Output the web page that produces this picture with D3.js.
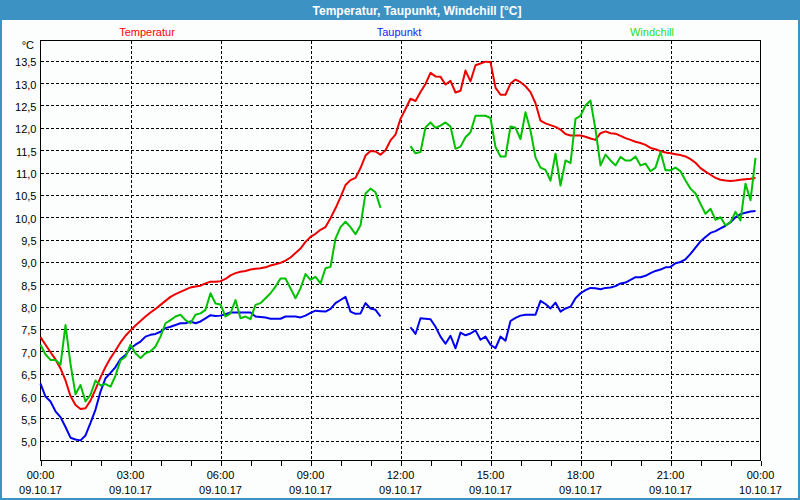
<!DOCTYPE html>
<html>
<head>
<meta charset="utf-8">
<script src="https://cdn.jsdelivr.net/npm/d3@7"></script>
<style>
  body { margin: 0; background: #fff; }
  svg { display: block; font-family: "Liberation Sans", Arial, sans-serif; }
</style>
</head>
<body>
<script>
// 10-minute readings, 00:00 .. 23:50, one row per hour (null = no data)
var temperatur = [
  7.32, 7.15, 6.98, 6.82, 6.62, 6.35,
  6.00, 5.80, 5.71, 5.73, 5.90, 6.15,
  6.42, 6.65, 6.85, 7.02, 7.20, 7.35,
  7.47, 7.58, 7.68, 7.78, 7.87, 7.95,
  8.04, 8.13, 8.22, 8.28, 8.33, 8.38,
  8.43, 8.45, 8.47, 8.52, 8.56, 8.56,
  8.57, 8.62, 8.70, 8.75, 8.78, 8.80,
  8.83, 8.85, 8.86, 8.88, 8.92, 8.95,
  8.98, 9.03, 9.10, 9.20, 9.30, 9.45,
  9.56, 9.63, 9.72, 9.78, 9.98, 10.20,
  10.45, 10.72, 10.83, 10.88, 11.10, 11.38,
  11.48, 11.47, 11.40, 11.50, 11.72, 11.85,
  12.20, 12.42, 12.65, 12.60, 12.80, 12.98,
  13.23, 13.15, 13.14, 12.97, 13.05, 12.79,
  12.83, 13.28, 13.04, 13.40, 13.44, 13.48,
  13.47, 12.90, 12.74, 12.74, 12.99, 13.08,
  13.02, 12.93, 12.80, 12.55, 12.16, 12.10,
  12.06, 12.02, 11.96, 11.86, 11.83, 11.83,
  11.83, 11.80, 11.76, 11.73, 11.88, 11.92,
  11.88, 11.87, 11.82, 11.77, 11.73, 11.69,
  11.66, 11.62, 11.55, 11.52, 11.48, 11.45,
  11.43, 11.41, 11.39, 11.36, 11.30, 11.22,
  11.10, 11.02, 10.95, 10.88, 10.84, 10.82,
  10.81, 10.82, 10.84, 10.85, 10.86, 10.88
];

var taupunkt = [
  6.28, 5.99, 5.88, 5.66, 5.53, 5.31,
  5.07, 5.03, 5.01, 5.12, 5.40, 5.70,
  6.10, 6.40, 6.52, 6.65, 6.83, 6.92,
  7.07, 7.15, 7.22, 7.33, 7.37, 7.39,
  7.44, 7.52, 7.55, 7.59, 7.63, 7.63,
  7.67, 7.63, 7.67, 7.74, 7.81, 7.79,
  7.80, 7.83, 7.87, 7.87, 7.87, 7.87,
  7.87, 7.78, 7.77, 7.76, 7.73, 7.73,
  7.73, 7.78, 7.78, 7.78, 7.76, 7.80,
  7.86, 7.91, 7.90, 7.89, 7.95, 8.08,
  8.15, 8.22, 7.89, 7.84, 7.85, 8.08,
  7.96, 7.93, 7.78, null, null, null,
  null, null, 7.54, 7.39, 7.74, 7.73,
  7.72, 7.55, 7.33, 7.17, 7.35, 7.07,
  7.42, 7.36, 7.40, 7.47, 7.26, 7.33,
  7.15, 7.07, 7.33, 7.24, 7.68, 7.75,
  7.80, 7.82, 7.82, 7.82, 8.13, 8.06,
  7.96, 8.09, 7.89, 7.96, 8.00, 8.19,
  8.30, 8.37, 8.42, 8.41, 8.39, 8.42,
  8.43, 8.46, 8.52, 8.54, 8.60, 8.66,
  8.66, 8.69, 8.75, 8.80, 8.83, 8.88,
  8.89, 8.97, 9.00, 9.06, 9.18, 9.32,
  9.46, 9.56, 9.65, 9.69, 9.75, 9.81,
  9.89, 10.00, 10.07, 10.10, 10.13, 10.14
];

var windchill = [
  7.15, 6.93, 6.81, 6.81, 6.70, 7.59,
  6.72, 6.04, 6.25, 5.88, 6.03, 6.35,
  6.24, 6.27, 6.21, 6.46, 6.80, 6.88,
  7.15, 6.96, 6.85, 6.96, 7.00, 7.11,
  7.33, 7.63, 7.70, 7.78, 7.82, 7.70,
  7.63, 7.82, 7.85, 7.93, 8.30, 8.07,
  8.05, 7.78, 7.85, 8.15, 7.74, 7.78,
  7.72, 8.04, 8.08, 8.19, 8.30, 8.45,
  8.63, 8.63, 8.41, 8.19, 8.41, 8.73,
  8.60, 8.67, 8.52, 8.86, 8.89, 9.52,
  9.78, 9.90, 9.78, 9.62, 9.82, 10.53,
  10.64, 10.56, 10.21, null, null, null,
  null, null, 11.59, 11.43, 11.46, 12.01,
  12.12, 12.00, 12.05, 12.12, 12.03, 11.53,
  11.58, 11.79, 11.90, 12.27, 12.27, 12.27,
  12.22, 11.57, 11.36, 11.36, 12.03, 12.00,
  11.75, 12.35, 11.94, 11.34, 11.11, 11.06,
  10.82, 11.42, 10.71, 11.27, 11.21, 12.20,
  12.27, 12.50, 12.61, 11.96, 11.16, 11.40,
  11.27, 11.16, 11.35, 11.27, 11.27, 11.36,
  11.16, 11.20, 11.03, 11.11, 11.46, 11.05,
  11.05, 11.11, 11.03, 10.82, 10.64, 10.53,
  10.30, 10.08, 10.19, 9.94, 10.00, 9.82,
  9.89, 10.12, 9.93, 10.75, 10.38, 11.33
];

var yTicks = [5.0, 5.5, 6.0, 6.5, 7.0, 7.5, 8.0, 8.5, 9.0, 9.5, 10.0, 10.5, 11.0, 11.5, 12.0, 12.5, 13.0, 13.5];
var xMajor = [0, 3, 6, 9, 12, 15, 18, 21, 24];
var timeLabels = ["00:00", "03:00", "06:00", "09:00", "12:00", "15:00", "18:00", "21:00", "00:00"];
var dateLabels = ["09.10.17", "09.10.17", "09.10.17", "09.10.17", "09.10.17", "09.10.17", "09.10.17", "09.10.17", "10.10.17"];
var seriesNames = ["Temperatur", "Taupunkt", "Windchill"];

var W = 800, H = 500;
var plot = {left: 40.5, right: 760.5, top: 40.5, bottom: 460.5};
var frameBlue = "#3d92c4";

var x = d3.scaleLinear().domain([0, 24]).range([plot.left, plot.right]);
var y = d3.scaleLinear().domain([4.56, 13.953]).range([plot.bottom, plot.top]);

var svg = d3.select("body").append("svg")
    .attr("width", W)
    .attr("height", H);

// background + frame
svg.append("rect")
    .attr("x", 1).attr("y", 1)
    .attr("width", W - 2).attr("height", H - 2)
    .attr("fill", "#fbfefd")
    .attr("stroke", frameBlue)
    .attr("stroke-width", 2);

svg.append("rect")
    .attr("x", 0).attr("y", 0)
    .attr("width", W).attr("height", 20)
    .attr("fill", frameBlue);

svg.append("text")
    .attr("x", 417).attr("y", 15)
    .attr("text-anchor", "middle")
    .attr("fill", "#fff")
    .style("font-size", "12px")
    .style("font-weight", "bold")
    .text("Temperatur, Taupunkt, Windchill [°C]");

// legend
var legendColors = ["#ff0000", "#1a1aff", "#22dd22"];
var legendX = [147, 399, 652];
svg.selectAll(".legend")
    .data(seriesNames)
  .enter().append("text")
    .attr("class", "legend")
    .attr("x", function(d, i) { return legendX[i]; })
    .attr("y", 36)
    .attr("text-anchor", "middle")
    .attr("fill", function(d, i) { return legendColors[i]; })
    .style("font-size", "11px")
    .text(function(d) { return d; });

// grid
var grid = svg.append("g").attr("class", "grid")
    .attr("stroke", "#000")
    .attr("stroke-width", 1)
    .attr("stroke-dasharray", "3,2")
    .attr("shape-rendering", "crispEdges");

grid.selectAll(".hgrid")
    .data(yTicks)
  .enter().append("line")
    .attr("x1", plot.left).attr("x2", plot.right)
    .attr("y1", function(d) { return Math.round(y(d)) + 0.5; })
    .attr("y2", function(d) { return Math.round(y(d)) + 0.5; });

grid.selectAll(".vgrid")
    .data(xMajor.slice(1, -1))
  .enter().append("line")
    .attr("y1", plot.top).attr("y2", plot.bottom)
    .attr("x1", function(d) { return Math.round(x(d)) + 0.5; })
    .attr("x2", function(d) { return Math.round(x(d)) + 0.5; });

// y axis labels
var yAxis = d3.axisLeft(y)
    .tickValues(yTicks)
    .tickSize(0)
    .tickPadding(4)
    .tickFormat(function(d) { return d.toFixed(1).replace(".", ","); });

var gy = svg.append("g")
    .attr("transform", "translate(" + plot.left + ",0)")
    .call(yAxis);
gy.select(".domain").remove();
gy.selectAll("text")
    .attr("fill", "#000")
    .attr("dy", "0.45em")
    .style("font-size", "11px")
    .style("font-family", "Liberation Sans, Arial, sans-serif");

svg.append("text")
    .attr("x", 34).attr("y", 49)
    .attr("text-anchor", "end")
    .style("font-size", "11px")
    .text("°C");

// x axis: hourly ticks, labels every 3 h
var xAxis = d3.axisBottom(x)
    .tickValues(d3.range(0, 25))
    .tickSize(5)
    .tickSizeOuter(0)
    .tickFormat("");

var gx = svg.append("g")
    .attr("transform", "translate(0," + plot.bottom + ")")
    .call(xAxis);
gx.select(".domain").remove();
gx.selectAll("line").attr("stroke", "#000").attr("shape-rendering", "crispEdges");

var xl = svg.selectAll(".xlabel")
    .data(xMajor)
  .enter().append("text")
    .attr("class", "xlabel")
    .attr("text-anchor", "middle")
    .attr("fill", "#000")
    .style("font-size", "11px");
xl.append("tspan")
    .attr("x", function(d) { return x(d); })
    .attr("y", 479)
    .text(function(d, i) { return timeLabels[i]; });
xl.append("tspan")
    .attr("x", function(d) { return x(d); })
    .attr("y", 494)
    .text(function(d, i) { return dateLabels[i]; });

// plot frame
svg.append("rect")
    .attr("x", plot.left).attr("y", plot.top)
    .attr("width", plot.right - plot.left)
    .attr("height", plot.bottom - plot.top)
    .attr("fill", "none")
    .attr("stroke", "#000")
    .attr("stroke-width", 1)
    .attr("shape-rendering", "crispEdges");

// lines
var line = d3.line()
    .defined(function(d) { return d != null; })
    .x(function(d, i) { return x(i / 6); })
    .y(function(d) { return y(d); });

var series = [
  {name: "Temperatur", values: temperatur, color: "#ee0000"},
  {name: "Taupunkt", values: taupunkt, color: "#0000ee"},
  {name: "Windchill", values: windchill, color: "#00c000"}
];

svg.selectAll(".series")
    .data(series)
  .enter().append("path")
    .attr("class", "series")
    .attr("d", function(d) { return line(d.values); })
    .attr("fill", "none")
    .attr("stroke", function(d) { return d.color; })
    .attr("stroke-width", 2)
    .attr("stroke-linejoin", "round");
</script>
</body>
</html>
